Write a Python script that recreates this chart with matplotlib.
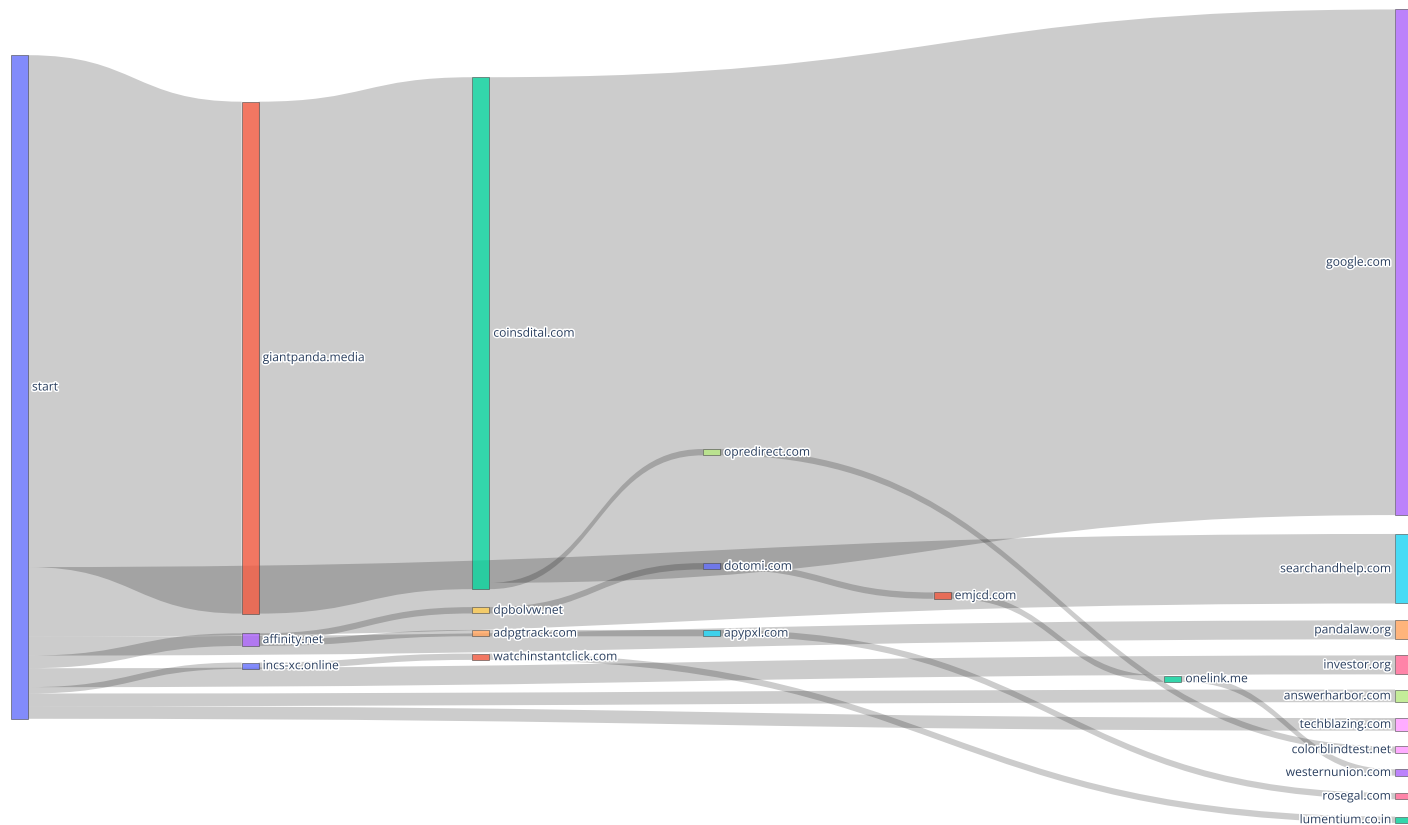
import matplotlib.pyplot as plt
from matplotlib.path import Path
from matplotlib.patches import PathPatch, Rectangle
import matplotlib.patheffects as pe

# Nodes
labels = ["start", "giantpanda.media", "affinity.net", "incs-xc.online",
          "coinsdital.com", "dpbolvw.net", "adpgtrack.com", "watchinstantclick.com",
          "opredirect.com", "dotomi.com", "apypxl.com",
          "emjcd.com", "onelink.me",
          "google.com", "searchandhelp.com", "pandalaw.org", "investor.org",
          "answerharbor.com", "techblazing.com", "colorblindtest.net",
          "westernunion.com", "rosegal.com", "lumentium.co.in"]
columns = [0, 1, 1, 1, 2, 2, 2, 2, 3, 3, 3, 4, 5,
           6, 6, 6, 6, 6, 6, 6, 6, 6, 6]
colors = ["#636efa", "#EF553B", "#ab63fa", "#636efa",
          "#00cc96", "#FECB52", "#FFA15A", "#EF553B",
          "#B6E880", "#636efa", "#19d3f3",
          "#EF553B", "#00cc96",
          "#ab63fa", "#19d3f3", "#FFA15A", "#FF6692",
          "#B6E880", "#FF97FF", "#FF97FF",
          "#ab63fa", "#FF6692", "#00cc96"]
# node centre, as fraction of the plot domain height (fixed arrangement)
node_y = [0.465, 0.429, 0.775, 0.807,
          0.399, 0.739, 0.767, 0.796,
          0.545, 0.685, 0.767,
          0.721, 0.823,
          0.312, 0.688, 0.763, 0.806,
          0.844, 0.879, 0.910,
          0.938, 0.967, 0.996]

# Links
sources = ["start", "start", "start", "start", "start", "start", "start", "start",
           "giantpanda.media", "affinity.net", "affinity.net", "incs-xc.online",
           "coinsdital.com", "coinsdital.com", "dpbolvw.net", "adpgtrack.com",
           "watchinstantclick.com", "opredirect.com", "dotomi.com", "apypxl.com",
           "emjcd.com", "onelink.me"]
targets = ["giantpanda.media", "searchandhelp.com", "pandalaw.org", "affinity.net",
           "investor.org", "incs-xc.online", "answerharbor.com", "techblazing.com",
           "coinsdital.com", "dpbolvw.net", "adpgtrack.com", "watchinstantclick.com",
           "google.com", "opredirect.com", "dotomi.com", "apypxl.com",
           "lumentium.co.in", "colorblindtest.net", "emjcd.com", "rosegal.com",
           "onelink.me", "westernunion.com"]
values = [81, 11, 3, 2, 3, 1, 2, 2,
          81, 1, 1, 1,
          80, 1, 1, 1,
          1, 1, 1, 1,
          1, 1]

W, H = 1408, 825
dom_top, dom_h = 8, 815
x_first, x_last = 11, 1395
thick = 17
scale = 6.32  # px per unit

idx = {n: i for i, n in enumerate(labels)}
n_nodes = len(labels)
src = [idx[s] for s in sources]
tgt = [idx[t] for t in targets]

size = [0.0] * n_nodes
inflow = [0.0] * n_nodes
outflow = [0.0] * n_nodes
for s, t, v in zip(src, tgt, values):
    outflow[s] += v
    inflow[t] += v
for i in range(n_nodes):
    size[i] = max(inflow[i], outflow[i])

ncol = max(columns)
x0 = [x_first + c * (x_last - x_first) / ncol for c in columns]
h = [size[i] * scale for i in range(n_nodes)]
cy = [dom_top + f * dom_h for f in node_y]
y0 = [cy[i] - h[i] / 2 for i in range(n_nodes)]

fig = plt.figure(figsize=(W / 100, H / 100), dpi=100)
ax = fig.add_axes([0, 0, 1, 1])
ax.set_xlim(0, W)
ax.set_ylim(H, 0)
ax.axis('off')

# stack links at each node, ordered like plotly (by the other end's position)
order = list(range(len(values)))
out_off = {}
in_off = {}
for n in range(n_nodes):
    outs = sorted([k for k in order if src[k] == n], key=lambda k: cy[tgt[k]])
    y = y0[n]
    for k in outs:
        out_off[k] = y
        y += values[k] * scale
    ins = sorted([k for k in order if tgt[k] == n], key=lambda k: cy[src[k]])
    y = y0[n]
    for k in ins:
        in_off[k] = y
        y += values[k] * scale

for k in order:
    s, t = src[k], tgt[k]
    xa = x0[s] + thick
    xb = x0[t]
    xm = (xa + xb) / 2
    ya, yb = out_off[k], in_off[k]
    w = values[k] * scale
    verts = [(xa, ya), (xm, ya), (xm, yb), (xb, yb),
             (xb, yb + w), (xm, yb + w), (xm, ya + w), (xa, ya + w), (xa, ya)]
    codes = [Path.MOVETO, Path.CURVE4, Path.CURVE4, Path.CURVE4,
             Path.LINETO, Path.CURVE4, Path.CURVE4, Path.CURVE4, Path.CLOSEPOLY]
    ax.add_patch(PathPatch(Path(verts, codes), facecolor=(0, 0, 0, 0.2),
                           edgecolor='none', zorder=1))

halo = [pe.withStroke(linewidth=2.2, foreground='white')]
for i in range(n_nodes):
    ax.add_patch(Rectangle((x0[i], y0[i]), thick, h[i], facecolor=colors[i],
                           alpha=0.8, edgecolor='#444444', linewidth=0.5, zorder=2))
    if columns[i] == ncol:
        tx, ha = x0[i] - 4, 'right'
    else:
        tx, ha = x0[i] + thick + 4, 'left'
    ax.text(tx, cy[i], labels[i], ha=ha, va='center', fontsize=8.7,
            family=['Open Sans', 'DejaVu Sans'], color='#2a3f5f',
            path_effects=halo, zorder=3)

fig.savefig("out.png", dpi=100)
